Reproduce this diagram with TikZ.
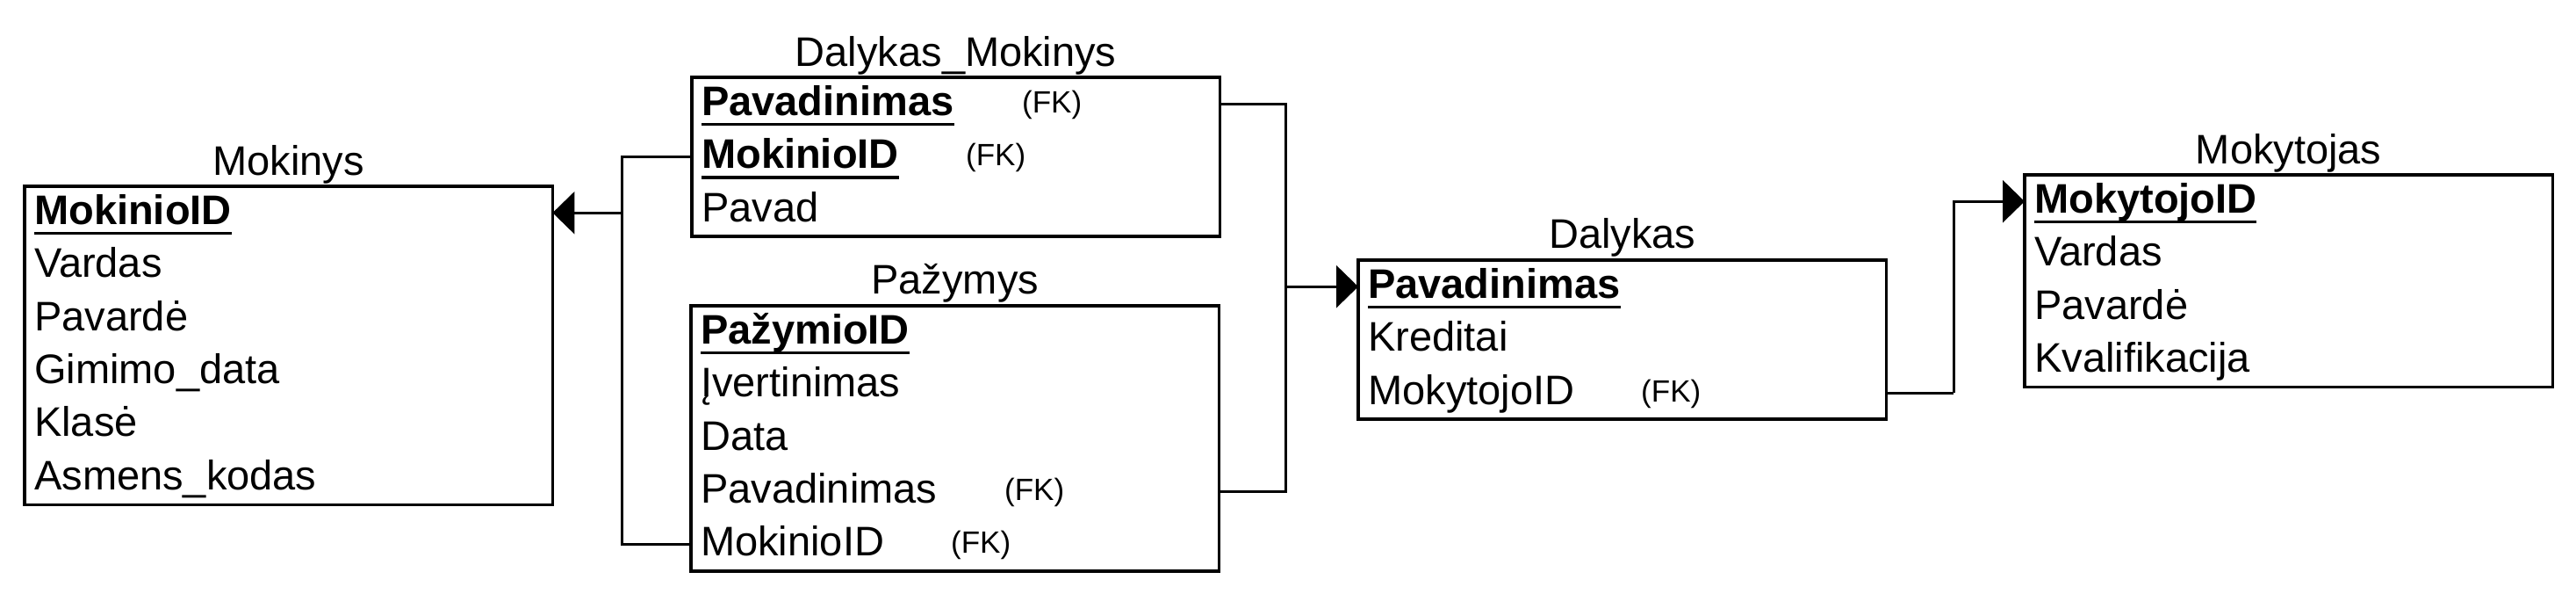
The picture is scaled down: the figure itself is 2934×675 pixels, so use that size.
\documentclass[tikz,border=0pt]{standalone}
\usepackage{fontspec}
\setmainfont{Liberation Sans}
\usetikzlibrary{arrows.meta,fit,calc}
\newcommand\rowfont{\fontsize{47}{56}\selectfont}
\newcommand\fkfont{\fontsize{35}{42}\selectfont}
\newcommand\pkey[1]{\setbox0\hbox{\bfseries #1}\rlap{\rule[-12pt]{\wd0}{3.5pt}}\box0}
\newcommand\fk[2]{\makebox[#1pt][l]{#2}\raisebox{3pt}{\fkfont (FK)}}
\begin{document}
\begin{tikzpicture}[x=1pt,y=-1pt,
  row/.style={rectangle,minimum width=601pt,minimum height=60pt,inner xsep=11pt,inner ysep=0pt,
    text width=579pt,align=left,text height=34pt,text depth=8pt,font=\rowfont,anchor=north west},
  tbl/.style={draw,line width=3.5pt,inner sep=0pt},
  ttl/.style={font=\rowfont,anchor=base,inner sep=0pt},
  conn/.style={line width=3pt},
  arr/.style={line width=3pt,-{Triangle[length=25pt,width=48pt]}}]
\useasboundingbox[fill=white] (0,0) rectangle (2934,675);

% Mokinys
\node[row] (mk1) at (28,212) {\pkey{MokinioID}};
\node[row] (mk2) at (mk1.south west) {Vardas};
\node[row] (mk3) at (mk2.south west) {Pavardė};
\node[row] (mk4) at (mk3.south west) {Gimimo\_data};
\node[row] (mk5) at (mk4.south west) {Klasė};
\node[row] (mk6) at (mk5.south west) {Asmens\_kodas};
\node[tbl,fit=(mk1)(mk6)] (mk) {};
\node[ttl] (mkT) at ([yshift=11pt]mk.north) {Mokinys};

% Dalykas_Mokinys
\node[row] (dm1) at (788,88) {\fk{365}{\pkey{Pavadinimas}}};
\node[row] (dm2) at (dm1.south west) {\fk{301}{\pkey{MokinioID}}};
\node[row] (dm3) at (dm2.south west) {Pavad};
\node[tbl,fit=(dm1)(dm3)] (dm) {};
\node[ttl] (dmT) at ([yshift=11pt]dm.north) {Dalykas\_Mokinys};

% Pazymys
\node[row] (pz1) at (787,348) {\pkey{PažymioID}};
\node[row] (pz2) at (pz1.south west) {Įvertinimas};
\node[row] (pz3) at (pz2.south west) {Data};
\node[row] (pz4) at (pz3.south west) {\fk{346}{Pavadinimas}};
\node[row] (pz5) at (pz4.south west) {\fk{285}{MokinioID}};
\node[tbl,fit=(pz1)(pz5)] (pz) {};
\node[ttl] (pzT) at ([yshift=12pt]pz.north) {Pažymys};

% Dalykas
\node[row] (dl1) at (1547,296) {\pkey{Pavadinimas}};
\node[row] (dl2) at (dl1.south west) {Kreditai};
\node[row] (dl3) at (dl2.south west) {\fk{311}{MokytojoID}};
\node[tbl,fit=(dl1)(dl3)] (dl) {};
\node[ttl] (dlT) at ([yshift=12pt]dl.north) {Dalykas};

% Mokytojas
\node[row] (mt1) at (2306,199) {\pkey{MokytojoID}};
\node[row] (mt2) at (mt1.south west) {Vardas};
\node[row] (mt3) at (mt2.south west) {Pavardė};
\node[row] (mt4) at (mt3.south west) {Kvalifikacija};
\node[tbl,fit=(mt1)(mt4)] (mt) {};
\node[ttl] (mtT) at ([yshift=11pt]mt.north) {Mokytojas};

% connectors
\coordinate (jl) at ($(dm2.west)+(-80,0)$);
\draw[conn] (dm2.west) -- (jl) |- (pz5.west);
\draw[arr] (jl |- mk1.east) -- (mk1.east);

\coordinate (jr) at ($(dm1.east)+(75,0)$);
\draw[conn] (dm1.east) -- (jr) |- (pz4.east);
\draw[arr] (jr |- dl1.west) -- (dl1.west);

\coordinate (jm) at ($(dl3.east)+(77,0)$);
\draw[conn] (dl3.east) -- (jm);
\draw[arr] (jm) |- (mt1.west);
\end{tikzpicture}
\end{document}
